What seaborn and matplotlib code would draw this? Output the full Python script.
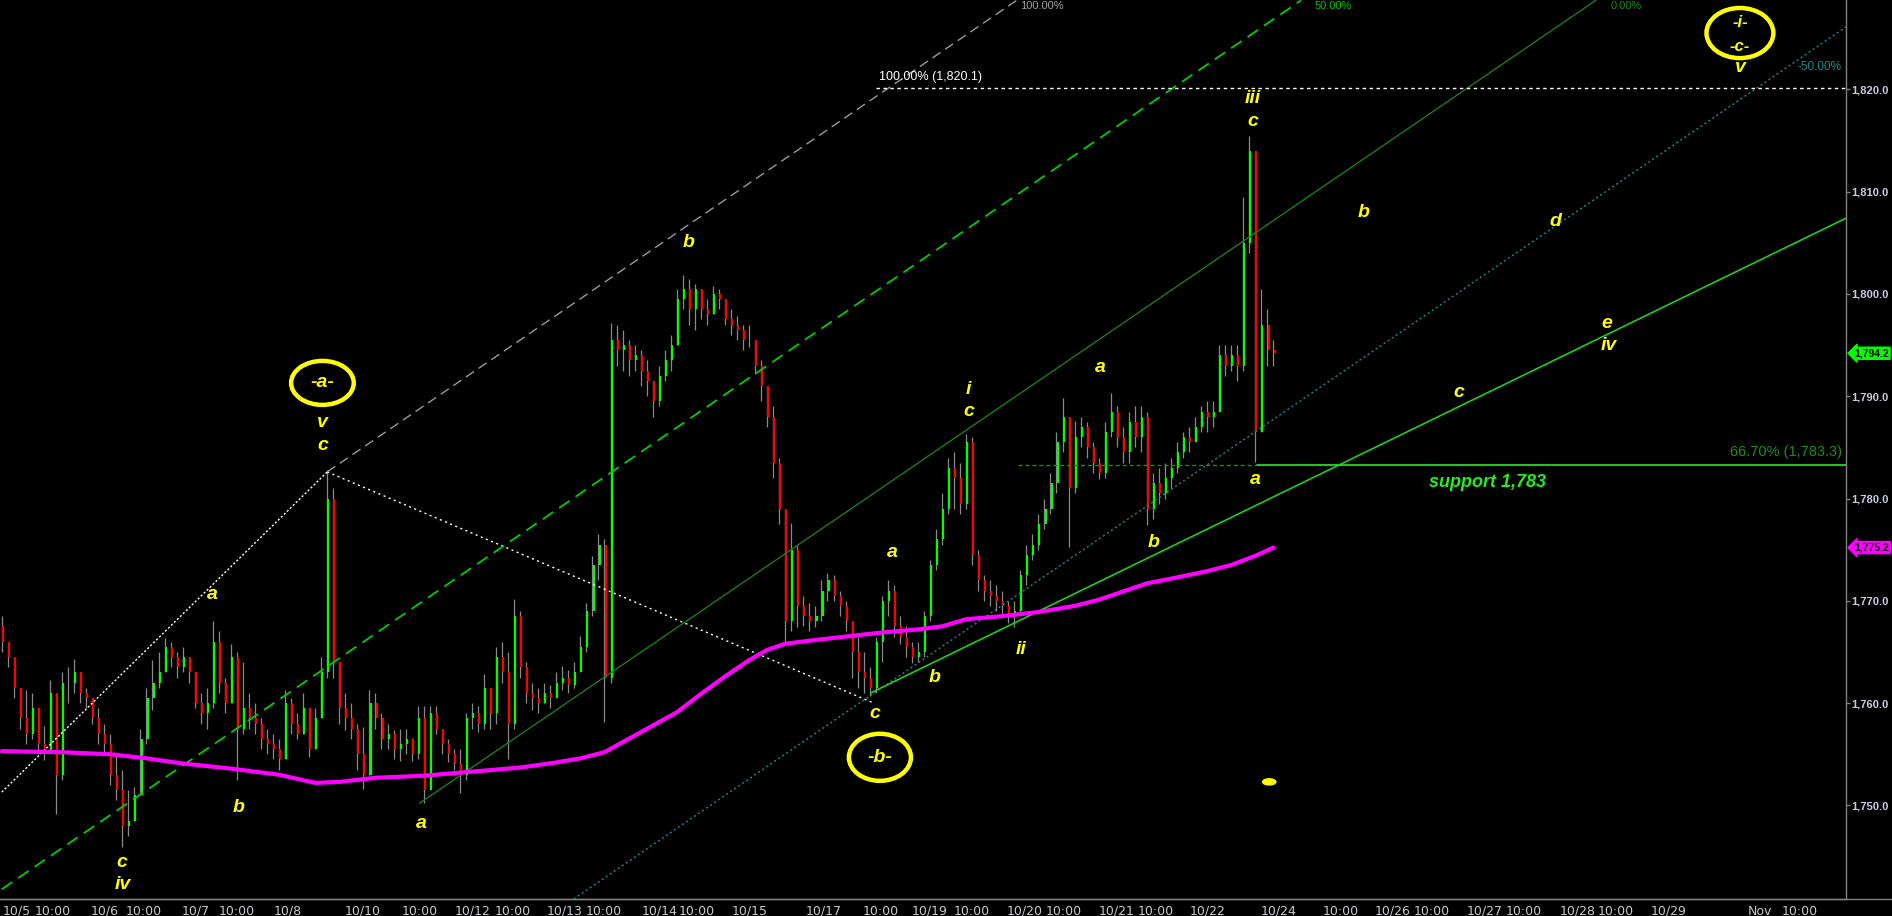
import numpy as np
import pandas as pd
import matplotlib
matplotlib.use("Agg")
import matplotlib.pyplot as plt
import matplotlib.transforms as mtransforms
from matplotlib.patches import Ellipse
from matplotlib.lines import Line2D
import seaborn as sns

# one bar every ~6 px, open = previous close
closes = [1766, 1764.5, 1761.5, 1758.5, 1757, 1759.5, 1756, 1755, 1761, 1753,
          1762, 1762, 1763, 1761, 1760.5, 1758.5, 1757, 1756, 1753, 1751.5,
          1748, 1748.5, 1751, 1756.5, 1760.5, 1762, 1763, 1765.5, 1764.5, 1763.5,
          1764.5, 1763, 1760, 1759, 1760, 1766, 1762, 1760, 1764.5, 1757.5,
          1759.5, 1758.5, 1758, 1756.5, 1756, 1755.5, 1754.5, 1760, 1758, 1757,
          1759.5, 1755.5, 1758.5, 1763, 1780, 1764, 1759.5, 1758.5, 1757.5, 1755,
          1753, 1760, 1758.5, 1756.5, 1757, 1755.5, 1756, 1756.5, 1755, 1758.5,
          1751.5, 1759, 1757.5, 1756, 1755, 1754, 1753, 1758.5, 1759, 1758,
          1761.5, 1759, 1764.5, 1763, 1758, 1768.5, 1763.5, 1761, 1760.5, 1760,
          1761, 1760.5, 1762, 1762.5, 1761.8, 1763, 1765.5, 1769, 1773.5, 1775.5,
          1762.5, 1795.5, 1794.5, 1795, 1793.5, 1794, 1792.5, 1791.5, 1789.5, 1792,
          1793.5, 1795, 1799.5, 1800.5, 1798.5, 1800.5, 1798.5, 1798, 1800, 1799.5,
          1797.5, 1797, 1796.5, 1795.5, 1795.5, 1793, 1791, 1788, 1783.5, 1779,
          1768, 1775, 1769.5, 1768.5, 1768, 1768.5, 1771, 1772, 1770.5, 1769.5,
          1768, 1765, 1763, 1762.5, 1761.5, 1766, 1770, 1771, 1767.5, 1766.5,
          1765.5, 1764.5, 1765, 1768.5, 1773.5, 1776, 1779, 1783, 1782, 1779.5,
          1785.5, 1774.5, 1772, 1771, 1770.5, 1770, 1769.5, 1768.5, 1769, 1772.5,
          1774.5, 1775.5, 1777.5, 1779, 1781.5, 1785.5, 1788, 1781, 1786, 1787,
          1785, 1783.5, 1782.5, 1786.5, 1788.5, 1786, 1784.5, 1787.5, 1786, 1788,
          1779, 1781.5, 1780.5, 1782, 1783, 1784.5, 1786, 1785.5, 1787, 1788.5,
          1788, 1788.5, 1794, 1793, 1794, 1793, 1805, 1814, 1786.5, 1797,
          1794.5, 1794.2]
highs = [1768.5, 1766, 1763, 1761.5, 1761.3, 1761, 1759, 1757.8, 1762.3, 1761,
         1763, 1763.5, 1764.3, 1762.5, 1761.5, 1760.5, 1759.5, 1758, 1757, 1755,
         1753.5, 1751.5, 1751.8, 1757.5, 1761.5, 1764.2, 1765, 1766.4, 1766, 1765,
         1765.5, 1764.5, 1762, 1761, 1761.5, 1768, 1767, 1762.5, 1765.8, 1765,
         1764, 1761, 1760, 1758.5, 1757.5, 1757, 1756.5, 1761.3, 1760.5, 1759,
         1761, 1758.5, 1759.5, 1764.5, 1782.8, 1781, 1762, 1761, 1760, 1758,
         1757.7, 1761.3, 1761, 1759, 1758, 1757.4, 1757.5, 1757.5, 1756.6, 1759.7,
         1759.7, 1759.7, 1759.7, 1757.5, 1756.5, 1755.5, 1755.5, 1759, 1760, 1759.7,
         1762.8, 1761.5, 1765.5, 1766, 1765, 1770.2, 1769, 1764, 1762, 1761.5,
         1762, 1761.8, 1763, 1763.6, 1763.2, 1764, 1766.6, 1769.8, 1774.4, 1776.5,
         1776, 1797.2, 1797, 1796.5, 1795.5, 1795, 1794.5, 1793.5, 1791.5, 1793,
         1794.5, 1796, 1800.5, 1801.8, 1801.5, 1801, 1800, 1799.5, 1800.8, 1800.5,
         1799, 1798.5, 1797.8, 1797, 1797, 1795.5, 1793.5, 1791, 1789, 1784,
         1779, 1777.6, 1775.5, 1770.5, 1769.8, 1769.5, 1772, 1772.7, 1772.5, 1771,
         1770, 1768, 1766.5, 1765, 1763.5, 1766.5, 1770.5, 1772, 1771.5, 1768.5,
         1767.5, 1766, 1766, 1769, 1774, 1777, 1780.5, 1784, 1784.5, 1783.5,
         1786.3, 1786, 1775, 1772.5, 1772, 1771.5, 1771, 1770, 1770, 1773,
         1775.5, 1776.5, 1778.5, 1780, 1782.5, 1786.5, 1789.8, 1788, 1787.6, 1788,
         1787.5, 1785.5, 1784, 1787.5, 1790.3, 1789, 1787, 1788.5, 1789, 1789,
         1788.5, 1782.5, 1783, 1783.5, 1784, 1785.5, 1786.5, 1787, 1788, 1789,
         1789.5, 1789.5, 1795, 1795, 1795, 1795, 1809.5, 1815.4, 1814, 1800.5,
         1798.5, 1795.5]
lows = [1765, 1763.5, 1760.5, 1757.5, 1756, 1756.5, 1755, 1754.4, 1755, 1749.2,
        1752.5, 1760, 1761, 1760, 1759.5, 1758, 1756, 1755, 1752, 1750.5,
        1745.9, 1747, 1748.5, 1751, 1756, 1759.3, 1761.5, 1763, 1763.5, 1762.5,
        1763, 1762, 1759.5, 1758, 1757.5, 1759.5, 1761, 1759, 1760, 1752.5,
        1757, 1757.5, 1757, 1755.5, 1755, 1754.5, 1753.5, 1755, 1757, 1756.5,
        1757, 1754.7, 1756, 1759.5, 1762.5, 1762.5, 1758, 1757.4, 1756.5, 1753.5,
        1751.6, 1753, 1757.5, 1755.5, 1755.5, 1754.5, 1754.3, 1755, 1754.3, 1754.5,
        1750.2, 1751.5, 1757, 1755, 1754.2, 1753.5, 1751.2, 1752.5, 1757.5, 1757.2,
        1757.5, 1757.5, 1758, 1762, 1754.5, 1757.5, 1762.5, 1760, 1759.3, 1759,
        1760, 1759.5, 1760.5, 1761.3, 1761, 1761.5, 1763.5, 1765, 1768.5, 1772,
        1758.2, 1762, 1793, 1792.5, 1792, 1792.5, 1791, 1790, 1788, 1789,
        1791.5, 1792.5, 1795.5, 1798.5, 1797, 1796.5, 1797.5, 1797, 1798, 1798.5,
        1797, 1796, 1795.5, 1794.5, 1794.8, 1792.2, 1789.5, 1787, 1782, 1777.5,
        1765.8, 1767, 1767.4, 1767.5, 1767, 1767.4, 1768, 1770, 1770, 1768.5,
        1767, 1762.5, 1761.5, 1761, 1760.7, 1761, 1764, 1768.5, 1766.5, 1765.8,
        1764.5, 1763.9, 1764, 1764.5, 1768, 1773, 1775.5, 1778.5, 1779, 1778.5,
        1779, 1773.5, 1771, 1770, 1769.5, 1769, 1768.5, 1767.8, 1767.4, 1768.5,
        1771.5, 1774, 1775, 1777, 1778.5, 1780.5, 1784.5, 1775.3, 1780.5, 1785,
        1784, 1782.5, 1781.9, 1782, 1786, 1785, 1783.5, 1783.5, 1785, 1784.5,
        1777.4, 1778, 1779.5, 1780, 1781, 1782.5, 1784, 1784.5, 1785.5, 1786.5,
        1786.5, 1787, 1788.5, 1792, 1792.5, 1791.5, 1792.5, 1804, 1783.6, 1786.5,
        1793, 1793]
first_open = 1767.5

# moving average (magenta)
ma_bar = [0, 10, 18, 24, 30, 38, 46, 52, 56, 62, 70, 78, 86, 92, 96, 100, 104, 108,
          112, 116, 120, 124, 127, 130, 134, 140, 146, 152, 156, 160, 166, 172, 178,
          182, 186, 190, 196, 200, 204, 208, 211]
ma_val = [1755.3, 1755.2, 1755.0, 1754.6, 1754.1, 1753.6, 1753.0, 1752.2, 1752.3,
          1752.7, 1752.9, 1753.3, 1753.7, 1754.2, 1754.6, 1755.2, 1756.5, 1757.8,
          1759.1, 1760.9, 1762.6, 1764.2, 1765.2, 1765.8, 1766.1, 1766.5, 1766.9,
          1767.2, 1767.5, 1768.2, 1768.5, 1768.9, 1769.5, 1770.1, 1770.9, 1771.7,
          1772.4, 1772.9, 1773.5, 1774.4, 1775.2]

price_ticks = [1750, 1760, 1770, 1780, 1790, 1800, 1810, 1820]
date_pos = [2.5, 8.5, 17.0, 23.6, 32.2, 38.9, 47.5, 59.8, 69.4, 78.2, 84.8, 93.4,
            99.9, 109.2, 115.3, 124.1, 136.4, 145.9, 154.0, 161.0, 169.8, 176.2,
            184.9, 191.5, 200.1, 211.9, 222.2, 230.7, 237.3, 246.1, 252.6, 261.5,
            267.8, 276.6, 291.7, 298.4]
date_labels = ["10/5", "10:00", "10/6", "10:00", "10/7", "10:00", "10/8", "10/10",
               "10:00", "10/12", "10:00", "10/13", "10:00", "10/14", "10:00", "10/15",
               "10/17", "10:00", "10/19", "10:00", "10/20", "10:00", "10/21", "10:00",
               "10/22", "10/24", "10:00", "10/26", "10:00", "10/27", "10:00", "10/28",
               "10:00", "10/29", "Nov", "10:00"]

last_price = 1794.2
ma_last = 1775.2
fib_top = 1820.1
fib_667 = 1783.3

# trend / fib channel lines (bar, price)
white_up_x, white_up_y = [0, 54], [1751.3, 1782.6]
white_ab_x, white_ab_y = [54, 144.7], [1782.6, 1760.0]
gray_x, gray_y = [54, 168.4], [1782.6, 1828.7]
gdash_x, gdash_y = [0, 215.6], [1741.8, 1828.7]
dkgreen_x, dkgreen_y = [69.3, 213.8, 264.5], [1750.2, 1808.3, 1828.7]
teal_x, teal_y = [94.9, 306], [1740.85, 1826.1]
support_x, support_y = [144.2, 306], [1761.0, 1807.4]

# wave labels (bar, price, text)
wave_labels = [(53.2, 1787.4, "v"), (53.2, 1785.2, "c"), (34.9, 1770.6, "a"),
               (39.3, 1749.8, "b"), (20.0, 1744.4, "c"), (20.1, 1742.3, "iv"),
               (69.6, 1748.2, "a"), (113.9, 1805.0, "b"), (144.9, 1759.0, "c"),
               (147.7, 1774.7, "a"), (154.7, 1762.5, "b"), (160.3, 1790.7, "i"),
               (160.4, 1788.5, "c"), (169.1, 1765.2, "ii"), (182.3, 1792.8, "a"),
               (191.1, 1775.7, "b"), (207.6, 1819.1, "iii"), (207.5, 1816.9, "c"),
               (208.0, 1781.9, "a"), (225.9, 1808.0, "b"), (257.8, 1807.1, "d"),
               (266.4, 1797.1, "e"), (266.6, 1795.0, "iv"), (241.8, 1790.4, "c"),
               (288.4, 1822.1, "v")]

sns.set_theme(style="dark", rc={"axes.facecolor": "black", "figure.facecolor": "black",
                                "axes.grid": False})
plt.rcParams['font.family'] = ['Liberation Sans', 'DejaVu Sans']

bars = pd.DataFrame({'bar': np.arange(len(closes)), 'close': closes,
                     'high': highs, 'low': lows})
bars['open'] = [first_open] + closes[:-1]
up = bars['close'] >= bars['open']
top = bars[['open', 'close', 'high']].max(axis=1)
bot = bars[['open', 'close', 'low']].min(axis=1)

fig = plt.figure(figsize=(18.92, 9.16), dpi=100, facecolor='black')
ax = fig.add_axes([0, 17 / 916, 1846 / 1892, 899 / 916])
ax.set_facecolor('black')

ax.vlines(bars['bar'], bot, top, color='#8a8a8a', lw=0.9, zorder=2)
ax.vlines(bars['bar'] + 0.18, bars[['open', 'close']].min(axis=1),
          bars[['open', 'close']].max(axis=1),
          colors=np.where(up, '#00ff00', '#ff0000'), lw=1.6, zorder=2.1)

# channel lines
ax.plot(white_up_x, white_up_y, color='white', lw=1, ls=(0, (1.5, 1.5)), zorder=3)
ax.plot(white_ab_x, white_ab_y, color='white', lw=1, ls=(0, (1.5, 2.5)), zorder=3)
ax.plot(gray_x, gray_y, color='#9a9a9a', lw=1, ls=(0, (7, 4)), zorder=3)
ax.plot(gdash_x, gdash_y, color='#00d000', lw=1.3, ls=(0, (7, 4)), zorder=3)
ax.plot(dkgreen_x, dkgreen_y, color='#1e7a1e', lw=1, zorder=3)
ax.plot(teal_x, teal_y, color='#1a8c8c', lw=1, ls=(0, (1.5, 2)), zorder=3)
ax.plot(support_x, support_y, color='#22cc22', lw=1.2, zorder=3)
ax.plot([145, 306], [fib_top, fib_top], color='white', lw=1, ls=(0, (2.5, 2.5)), zorder=3)
ax.plot([168.6, 208.2], [fib_667, fib_667], color='#1e8a1e', lw=1, ls=(0, (3, 2)), zorder=3)
ax.plot([208.2, 306], [fib_667, fib_667], color='#22dd22', lw=1.3, zorder=3)

sns.lineplot(x=ma_bar, y=ma_val, ax=ax, color='#ff00ff', lw=3, zorder=4)

# ellipses
ell_style = dict(fill=False, ec='#ffff00', lw=3.2, zorder=5)
ax.add_patch(Ellipse((53.2, 1791.3), 10.4, 4.3, **ell_style))
ax.add_patch(Ellipse((145.7, 1754.7), 10.3, 4.6, **ell_style))
ax.add_patch(Ellipse((288.4, 1825.5), 11.1, 4.9, **ell_style))
ax.add_patch(Ellipse((210.3, 1752.3), 2.2, 0.6, fc='#ffff00', ec='#ffff00', zorder=5))

yel = dict(color='#ffff00', fontsize=14, fontweight='bold', fontstyle='italic',
           ha='center', va='center', zorder=6)
for bx, py, t in wave_labels:
    ax.text(bx, py, t, **yel)
ax.text(53.2, 1791.3, "-a-", **yel)
ax.text(145.7, 1754.7, "-b-", **yel)
ax.text(288.4, 1826.5, "-i-", **dict(yel, fontsize=12))
ax.text(288.4, 1824.2, "-c-", **dict(yel, fontsize=12))

ax.text(145.6, 1820.6, "100.00% (1,820.1)", color='white', fontsize=9,
        ha='left', va='bottom', zorder=6)
ax.text(305.3, 1784.5, "66.70% (1,783.3)", color='#1e8c1e', fontsize=10.5,
        ha='right', va='center', zorder=6)
ax.text(305.3, 1822.2, "-50.00%", color='#1a8c8c', fontsize=8.5, ha='right',
        va='center', zorder=6)
ax.text(246.5, 1781.6, "support 1,783", color='#22ee22', fontsize=13,
        fontweight='bold', fontstyle='italic', ha='center', va='center', zorder=6)
# channel level labels along the top edge
for bx, t, c in [(172.5, "100.00%", '#a0a0a0'), (221.0, "50.00%", '#00c000'),
                 (269.6, "0.00%", '#1e8a1e')]:
    ax.text(bx, 1828.6, t, color=c, fontsize=8, ha='center', va='top', zorder=6)

ax.set_xlim(-0.3, 306.0)
ax.set_ylim(1740.85, 1828.73)
ax.set_xlabel('')
ax.set_ylabel('')

ax.yaxis.tick_right()
ax.set_yticks(price_ticks)
ax.set_yticklabels([f"{v:,.1f}" for v in price_ticks])
ax.tick_params(axis='y', colors='#808080', labelcolor='#c8cce0', length=3, width=1,
               pad=1, labelsize=8, direction='out')
for lab in ax.get_yticklabels():
    lab.set_fontweight('bold')
ax.set_xticks(date_pos)
ax.set_xticklabels(date_labels)
ax.tick_params(axis='x', colors='#808080', labelcolor='#c8c8d0', length=3, width=1,
               pad=1, labelsize=9, direction='out')
for lab in ax.get_xticklabels():
    lab.set_family(['Liberation Sans Narrow', 'DejaVu Sans'])

for side in ['left', 'top']:
    ax.spines[side].set_visible(False)
for side in ['right', 'bottom']:
    ax.spines[side].set_color('#808080')
    ax.spines[side].set_linewidth(1)
fig.add_artist(Line2D([0, 1], [17 / 916, 17 / 916], color='#808080', lw=1))

trans = mtransforms.blended_transform_factory(ax.transAxes, ax.transData)
ax.text(1.0045, last_price, f"{last_price:,.1f}", transform=trans, ha='left',
        va='center', fontsize=7.5, fontweight='bold', color='black', clip_on=False,
        bbox=dict(boxstyle='larrow,pad=0.1', fc='#00ff00', ec='#00ff00'), zorder=7)
ax.text(1.0045, ma_last, f"{ma_last:,.1f}", transform=trans, ha='left',
        va='center', fontsize=7.5, fontweight='bold', color='black', clip_on=False,
        bbox=dict(boxstyle='larrow,pad=0.1', fc='#ff00ff', ec='#ff00ff'), zorder=7)

fig.savefig('out.png', dpi=100, facecolor='black')
